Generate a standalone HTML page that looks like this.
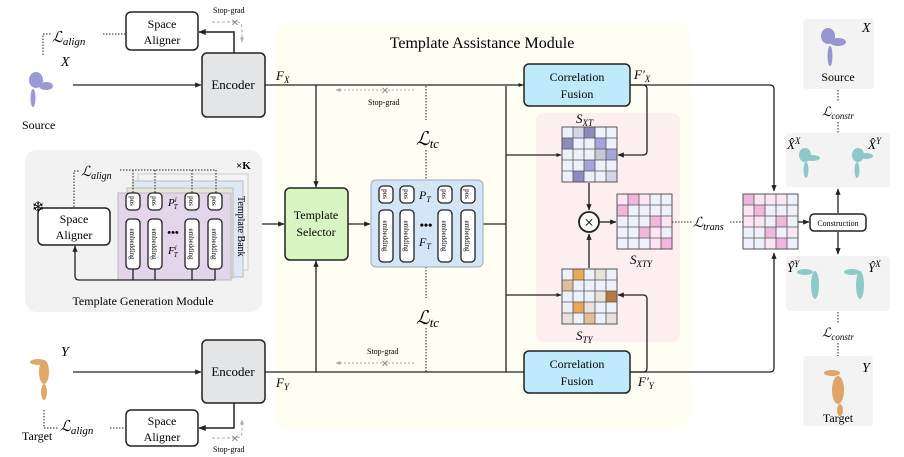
<!DOCTYPE html>
<html><head><meta charset="utf-8"><style>
html,body{margin:0;padding:0;background:#fff}
svg{display:block;font-family:"Liberation Serif",serif}
.i{font-style:italic}
</style></head><body>
<svg width="904" height="457" viewBox="0 0 904 457" xmlns="http://www.w3.org/2000/svg">
<defs>
<marker id="a" viewBox="0 0 10 10" refX="9" refY="5" markerWidth="5" markerHeight="5" orient="auto"><path d="M0,1 L10,5 L0,9z" fill="#222"/></marker>
<marker id="g" viewBox="0 0 10 10" refX="9" refY="5" markerWidth="5" markerHeight="5" orient="auto"><path d="M0,1 L10,5 L0,9z" fill="#aaa"/></marker>
</defs>
<!-- regions -->
<rect x="275" y="22" width="415" height="406" rx="14" fill="#fefef2"/>
<rect x="536" y="113" width="144" height="229" rx="8" fill="#fdeef0"/>
<rect x="25" y="150" width="237" height="162" rx="12" fill="#f2f2f2"/>
<rect x="803" y="19" width="71" height="70" rx="4" fill="#f3f3f3"/>
<rect x="786" y="133" width="104" height="54" rx="4" fill="#f3f3f3"/>
<rect x="786" y="256" width="104" height="55" rx="4" fill="#f3f3f3"/>
<rect x="803" y="356" width="70" height="70" rx="4" fill="#f3f3f3"/>

<!-- point clouds -->
<g fill="#7a78c8" opacity="0.75">
<ellipse cx="36" cy="80" rx="7" ry="8"/><ellipse cx="46" cy="86" rx="7" ry="4"/><ellipse cx="33" cy="98" rx="2.5" ry="9"/>
<ellipse cx="828" cy="36" rx="7" ry="8"/><ellipse cx="838" cy="42" rx="8" ry="4"/><ellipse cx="830" cy="56" rx="2.5" ry="10"/>
</g>
<g fill="#d98b3a" opacity="0.75">
<ellipse cx="44" cy="372" rx="5" ry="12"/><ellipse cx="44" cy="392" rx="3" ry="8"/><ellipse cx="38" cy="362" rx="8" ry="3"/>
<ellipse cx="838" cy="390" rx="6" ry="14"/><ellipse cx="832" cy="373" rx="8" ry="3"/><ellipse cx="840" cy="410" rx="3" ry="6"/>
</g>
<g fill="#6cbcb8" opacity="0.75">
<ellipse cx="805" cy="155" rx="6" ry="7"/><ellipse cx="812" cy="158" rx="8" ry="3"/><ellipse cx="806" cy="170" rx="2.5" ry="8"/>
<ellipse cx="858" cy="155" rx="6" ry="7"/><ellipse cx="866" cy="156" rx="7" ry="3"/><ellipse cx="857" cy="170" rx="2.5" ry="8"/>
<ellipse cx="815" cy="285" rx="4" ry="14"/><ellipse cx="805" cy="272" rx="8" ry="3"/>
<ellipse cx="860" cy="285" rx="4" ry="14"/><ellipse cx="852" cy="272" rx="8" ry="3"/>
</g>

<!-- texts left top -->
<text x="22" y="129" font-size="12">Source</text>
<text x="61" y="66" font-size="14" class="i">X</text>
<text x="22" y="440" font-size="12">Target</text>
<text x="61" y="356" font-size="14" class="i">Y</text>
<text x="52" y="42" font-size="15" class="i">ℒ<tspan font-size="11" dy="3">align</tspan></text>
<path d="M43,55 V34 H51" fill="none" stroke="#222" stroke-dasharray="1.5,1.5"/>
<path d="M103,34 H126" fill="none" stroke="#222" stroke-dasharray="1.5,1.5"/>
<text x="60" y="431" font-size="15" class="i">ℒ<tspan font-size="11" dy="3">align</tspan></text>
<path d="M44,410 V428 H58" fill="none" stroke="#222" stroke-dasharray="1.5,1.5"/>
<path d="M110,428 H126" fill="none" stroke="#222" stroke-dasharray="1.5,1.5"/>

<!-- Space aligners -->
<rect x="126" y="12" width="72" height="38" rx="5" fill="#fff" stroke="#222" stroke-width="1.5"/>
<text x="162" y="28" font-size="12" text-anchor="middle">Space</text><text x="162" y="44" font-size="12" text-anchor="middle">Aligner</text>
<rect x="126" y="410" width="72" height="36" rx="5" fill="#fff" stroke="#222" stroke-width="1.5"/>
<text x="162" y="425" font-size="12" text-anchor="middle">Space</text><text x="162" y="441" font-size="12" text-anchor="middle">Aligner</text>
<text x="213" y="13" font-size="8">Stop-grad</text>
<path d="M212,22 H236 Q242,22 242,28 V42" fill="none" stroke="#aaa" stroke-dasharray="3,2" marker-end="url(#g)"/>
<text x="235" y="26" font-size="10" fill="#888" text-anchor="middle">✕</text>
<text x="213" y="452" font-size="8">Stop-grad</text>
<path d="M212,438 H236 Q242,438 242,432 V420" fill="none" stroke="#aaa" stroke-dasharray="3,2" marker-end="url(#g)"/>
<text x="235" y="442" font-size="10" fill="#888" text-anchor="middle">✕</text>
<path d="M234,53 V32 H199" fill="none" stroke="#222" stroke-width="1.5" marker-end="url(#a)"/>
<path d="M234,403 V428 H199" fill="none" stroke="#222" stroke-width="1.5" marker-end="url(#a)"/>

<!-- Encoders -->
<rect x="202" y="53" width="63" height="64" rx="5" fill="#e3e5e6" stroke="#222" stroke-width="1.5"/>
<text x="233" y="89" font-size="13" text-anchor="middle">Encoder</text>
<rect x="202" y="340" width="63" height="63" rx="5" fill="#e3e5e6" stroke="#222" stroke-width="1.5"/>
<text x="233" y="376" font-size="13" text-anchor="middle">Encoder</text>
<path d="M73,85 H201" stroke="#222" stroke-width="1.3" marker-end="url(#a)"/>
<path d="M73,372 H201" stroke="#222" stroke-width="1.3" marker-end="url(#a)"/>

<text x="482" y="48" font-size="16" text-anchor="middle">Template Assistance Module</text>
<text x="276" y="80" font-size="13" class="i">F<tspan font-size="9" dy="3">X</tspan></text>
<text x="276" y="387" font-size="13" class="i">F<tspan font-size="9" dy="3">Y</tspan></text>

<!-- main lines -->
<path d="M265,85 H770 Q774,85 774,89 V191" fill="none" stroke="#222" stroke-width="1.3" marker-end="url(#a)"/>
<path d="M506,85 H523" stroke="#222" marker-end="url(#a)"/>
<path d="M265,372 H770 Q774,372 774,368 V253" fill="none" stroke="#222" stroke-width="1.3" marker-end="url(#a)"/>
<path d="M316,85 V187" stroke="#222" stroke-width="1.3" marker-end="url(#a)"/>
<path d="M316,372 V261" stroke="#222" stroke-width="1.3" marker-end="url(#a)"/>
<path d="M262,224 H284" stroke="#222" stroke-width="1.3" marker-end="url(#a)"/>
<path d="M348,224 H370" stroke="#222" stroke-width="1.3" marker-end="url(#a)"/>
<path d="M483,224 H506 M506,86 V372 M506,155 H561 M506,295 H561" fill="none" stroke="#222" stroke-width="1.3"/>
<path d="M540,155 H561" stroke="#222" marker-end="url(#a)"/>
<path d="M540,295 H561" stroke="#222" marker-end="url(#a)"/>
<path d="M630,85 H643 Q647,85 647,89 V151 Q647,155 643,155 H618" fill="none" stroke="#222" stroke-width="1.3" marker-end="url(#a)"/>
<path d="M630,372 H643 Q647,372 647,368 V299 Q647,295 643,295 H618" fill="none" stroke="#222" stroke-width="1.3" marker-end="url(#a)"/>

<!-- stop-grad in TAM -->
<path d="M426,86 V120" stroke="#222" stroke-dasharray="1.5,1.5"/>
<path d="M426,150 V180 M426,267 V298 M426,328 V372" stroke="#222" stroke-dasharray="1.5,1.5"/>
<path d="M414,90 H336" stroke="#aaa" stroke-dasharray="2,2" marker-end="url(#g)"/>
<text x="385" y="94" font-size="10" fill="#888" text-anchor="middle">✕</text>
<text x="368" y="105" font-size="8">Stop-grad</text>
<path d="M414,363 H336" stroke="#aaa" stroke-dasharray="2,2" marker-end="url(#g)"/>
<text x="385" y="367" font-size="10" fill="#888" text-anchor="middle">✕</text>
<text x="367" y="354" font-size="8">Stop-grad</text>
<text x="416" y="145" font-size="19" class="i">ℒ<tspan font-size="13" dy="3">tc</tspan></text>
<text x="416" y="324" font-size="19" class="i">ℒ<tspan font-size="13" dy="3">tc</tspan></text>

<!-- Correlation fusion -->
<rect x="524" y="64" width="106" height="42" rx="5" fill="#bfeafc" stroke="#222" stroke-width="1.5"/>
<text x="577" y="81" font-size="12" text-anchor="middle">Correlation</text><text x="577" y="98" font-size="12" text-anchor="middle">Fusion</text>
<rect x="524" y="351" width="106" height="42" rx="5" fill="#bfeafc" stroke="#222" stroke-width="1.5"/>
<text x="577" y="368" font-size="12" text-anchor="middle">Correlation</text><text x="577" y="385" font-size="12" text-anchor="middle">Fusion</text>
<text x="634" y="79" font-size="13" class="i">F′<tspan font-size="9" dy="3">X</tspan></text>
<text x="638" y="386" font-size="13" class="i">F′<tspan font-size="9" dy="3">Y</tspan></text>

<!-- Template selector -->
<rect x="285" y="188" width="63" height="72" rx="5" fill="#d9f6c2" stroke="#222" stroke-width="1.5"/>
<text x="316" y="219" font-size="12" text-anchor="middle">Template</text><text x="316" y="236" font-size="12" text-anchor="middle">Selector</text>

<!-- feature box -->
<rect x="371" y="180" width="112" height="87" rx="5" fill="#d5e5f8" stroke="#9ab"/>
<g fill="#fff" stroke="#222" stroke-width="1.3">
<rect x="379" y="186" width="14" height="17" rx="4"/><rect x="400" y="186" width="14" height="17" rx="4"/><rect x="438" y="186" width="14" height="17" rx="4"/><rect x="461" y="186" width="14" height="17" rx="4"/>
<rect x="379" y="210" width="14" height="52" rx="4"/><rect x="400" y="210" width="14" height="52" rx="4"/><rect x="438" y="210" width="14" height="52" rx="4"/><rect x="461" y="210" width="14" height="52" rx="4"/>
</g>
<g font-size="7" text-anchor="middle">
<text transform="translate(383,194) rotate(90)">pos</text><text transform="translate(404,194) rotate(90)">pos</text><text transform="translate(442,194) rotate(90)">pos</text><text transform="translate(465,194) rotate(90)">pos</text>
<text transform="translate(383,236) rotate(90)">embedding</text><text transform="translate(404,236) rotate(90)">embedding</text><text transform="translate(442,236) rotate(90)">embedding</text><text transform="translate(465,236) rotate(90)">embedding</text>
</g>
<text x="419" y="199" font-size="12" class="i">P<tspan font-size="8" dy="3">T</tspan></text>
<text x="419" y="246" font-size="12" class="i">F<tspan font-size="8" dy="3">T</tspan></text>
<text x="426" y="229" font-size="12" text-anchor="middle" font-weight="bold">•••</text>

<!-- TGM -->
<rect x="138" y="174" width="110" height="96" fill="#f4f4f4" stroke="#ccc"/>
<rect x="133" y="181" width="110" height="96" fill="#dfe8f7" stroke="#bbb"/>
<rect x="127" y="188" width="106" height="90" fill="#e4e8d4" stroke="#bbb"/>
<rect x="118" y="193" width="113" height="87" fill="#e3d5ea" stroke="#bbb"/>
<text transform="translate(238,196) rotate(90)" font-size="10">Template Bank</text>
<text x="236" y="169" font-size="11" font-weight="bold">×K</text>
<g fill="#fff" stroke="#222" stroke-width="1.3">
<rect x="126" y="193" width="14" height="17" rx="4"/><rect x="148" y="193" width="14" height="17" rx="4"/><rect x="185" y="193" width="14" height="17" rx="4"/><rect x="208" y="193" width="14" height="17" rx="4"/>
<rect x="126" y="219" width="14" height="50" rx="4"/><rect x="148" y="219" width="14" height="50" rx="4"/><rect x="185" y="219" width="14" height="50" rx="4"/><rect x="208" y="219" width="14" height="50" rx="4"/>
</g>
<g font-size="7" text-anchor="middle">
<text transform="translate(130,201) rotate(90)">pos</text><text transform="translate(152,201) rotate(90)">pos</text><text transform="translate(189,201) rotate(90)">pos</text><text transform="translate(212,201) rotate(90)">pos</text>
<text transform="translate(130,244) rotate(90)">embedding</text><text transform="translate(152,244) rotate(90)">embedding</text><text transform="translate(189,244) rotate(90)">embedding</text><text transform="translate(212,244) rotate(90)">embedding</text>
</g>
<text x="168" y="206" font-size="11" class="i">P<tspan font-size="7" dy="-4">i</tspan><tspan font-size="7" dx="-3" dy="7">T</tspan></text>
<text x="168" y="254" font-size="11" class="i">F<tspan font-size="7" dy="-4">i</tspan><tspan font-size="7" dx="-3" dy="7">T</tspan></text>
<text x="173" y="236" font-size="11" text-anchor="middle" font-weight="bold">•••</text>
<rect x="38" y="208" width="72" height="37" rx="5" fill="#fff" stroke="#222" stroke-width="1.5"/>
<text x="74" y="223" font-size="12" text-anchor="middle">Space</text><text x="74" y="239" font-size="12" text-anchor="middle">Aligner</text>
<text x="38" y="212" font-size="15" text-anchor="middle">❄</text>
<text x="81" y="176" font-size="14" class="i">ℒ<tspan font-size="10" dy="3">align</tspan></text>
<path d="M74,207 V171 H80 M120,170 H216 V193 M133,170 V193 M155,170 V193 M192,170 V193" fill="none" stroke="#222" stroke-dasharray="1.5,1.5"/>
<path d="M133,269 V280 M155,269 V280 M192,269 V280 M215,269 V280 M215,280 H79 Q75,280 75,276 V246" fill="none" stroke="#222" stroke-width="1.3" marker-end="url(#a)"/>
<text x="143" y="305" font-size="12" text-anchor="middle">Template Generation Module</text>

<!-- S_XT grid -->
<rect x="562" y="127" width="55" height="55" fill="#eef0fb"/>
<g>
<rect x="584" y="127" width="11" height="11" fill="#8b8bbf"/><rect x="562" y="138" width="11" height="11" fill="#8b8bbf"/><rect x="606" y="149" width="11" height="11" fill="#a5a5dc"/><rect x="595" y="138" width="11" height="11" fill="#a5a5dc"/><rect x="584" y="160" width="11" height="11" fill="#a5a5dc"/><rect x="573" y="171" width="11" height="11" fill="#8b8bbf"/><rect x="595" y="149" width="11" height="11" fill="#c8c8d8"/><rect x="573" y="127" width="11" height="11" fill="#d5d5e8"/><rect x="606" y="171" width="11" height="11" fill="#d5d5e8"/>
</g>
<path d="M573,127V182M584,127V182M595,127V182M606,127V182M562,138H617M562,149H617M562,160H617M562,171H617" stroke="#555" stroke-width="0.8"/>
<rect x="562" y="127" width="55" height="55" fill="none" stroke="#555" stroke-width="1"/>
<text x="576" y="123" font-size="13" class="i">S<tspan font-size="9" dy="3">XT</tspan></text>
<!-- S_TY -->
<rect x="562" y="269" width="55" height="55" fill="#eef0fb"/>
<g>
<rect x="573" y="269" width="11" height="11" fill="#eaa857"/><rect x="562" y="280" width="11" height="11" fill="#e0bf98"/><rect x="606" y="291" width="11" height="11" fill="#b8773f"/><rect x="573" y="302" width="11" height="11" fill="#eaa857"/><rect x="595" y="269" width="11" height="11" fill="#e8e2da"/><rect x="595" y="291" width="11" height="11" fill="#e8e2da"/><rect x="584" y="302" width="11" height="11" fill="#e8e2da"/><rect x="584" y="313" width="11" height="11" fill="#e0bf98"/><rect x="562" y="313" width="11" height="11" fill="#e8e2da"/><rect x="606" y="313" width="11" height="11" fill="#e8e2da"/>
</g>
<path d="M573,269V324M584,269V324M595,269V324M606,269V324M562,280H617M562,291H617M562,302H617M562,313H617" stroke="#555" stroke-width="0.8"/>
<rect x="562" y="269" width="55" height="55" fill="none" stroke="#555" stroke-width="1"/>
<text x="576" y="340" font-size="13" class="i">S<tspan font-size="9" dy="3">TY</tspan></text>
<!-- S_XTY -->
<rect x="617" y="194" width="55" height="55" fill="#eef0fb"/>
<g>
<rect x="617" y="194" width="11" height="11" fill="#fce6f4"/><rect x="639" y="194" width="11" height="11" fill="#fce6f4"/><rect x="661" y="216" width="11" height="11" fill="#fce6f4"/><rect x="650" y="238" width="11" height="11" fill="#fce6f4"/><rect x="650" y="227" width="11" height="11" fill="#fce6f4"/>
<rect x="628" y="194" width="11" height="11" fill="#f0b6dc"/><rect x="617" y="205" width="11" height="11" fill="#f0b6dc"/><rect x="650" y="216" width="11" height="11" fill="#f0b6dc"/><rect x="639" y="227" width="11" height="11" fill="#f0b6dc"/><rect x="661" y="238" width="11" height="11" fill="#f0b6dc"/>
</g>
<path d="M628,194V249M639,194V249M650,194V249M661,194V249M617,205H672M617,216H672M617,227H672M617,238H672" stroke="#555" stroke-width="0.8"/>
<rect x="617" y="194" width="55" height="55" fill="none" stroke="#555" stroke-width="1"/>
<text x="630" y="264" font-size="13" class="i">S<tspan font-size="9" dy="3">XTY</tspan></text>
<circle cx="589" cy="222" r="10" fill="#fff" stroke="#222" stroke-width="1.8"/>
<text x="589" y="228" font-size="17" text-anchor="middle">×</text>
<path d="M589,183 V210" stroke="#222" stroke-width="1.3" marker-end="url(#a)"/>
<path d="M589,268 V234" stroke="#222" stroke-width="1.3" marker-end="url(#a)"/>
<path d="M600,222 H616" stroke="#222" stroke-width="1.3" marker-end="url(#a)"/>
<path d="M672,222 H692" stroke="#222" stroke-dasharray="1.5,1.5"/>
<text x="693" y="227" font-size="14" class="i">ℒ<tspan font-size="10" dy="3">trans</tspan></text>
<path d="M730,222 H743" stroke="#222" stroke-dasharray="1.5,1.5"/>

<!-- big matrix -->
<rect x="743" y="194" width="55" height="55" fill="#eef0fb"/>
<g>
<rect x="754" y="194" width="11" height="11" fill="#fce6f4"/><rect x="765" y="194" width="11" height="11" fill="#fce6f4"/><rect x="776" y="194" width="11" height="11" fill="#fce6f4"/><rect x="743" y="205" width="11" height="11" fill="#fce6f4"/><rect x="754" y="216" width="11" height="11" fill="#fce6f4"/><rect x="743" y="216" width="11" height="11" fill="#fce6f4"/><rect x="787" y="227" width="11" height="11" fill="#fce6f4"/><rect x="765" y="238" width="11" height="11" fill="#fce6f4"/>
<rect x="743" y="194" width="11" height="11" fill="#f0b6dc"/><rect x="754" y="205" width="11" height="11" fill="#f0b6dc"/><rect x="776" y="216" width="11" height="11" fill="#f0b6dc"/><rect x="765" y="227" width="11" height="11" fill="#f0b6dc"/><rect x="776" y="238" width="11" height="11" fill="#f0b6dc"/>
</g>
<path d="M754,194V249M765,194V249M776,194V249M787,194V249M743,205H798M743,216H798M743,227H798M743,238H798" stroke="#555" stroke-width="0.8"/>
<rect x="743" y="194" width="55" height="55" fill="none" stroke="#555" stroke-width="1"/>
<path d="M798,222 H809" stroke="#222" stroke-width="1.3" marker-end="url(#a)"/>
<rect x="810" y="214" width="56" height="17" rx="4" fill="#fff" stroke="#222" stroke-width="1.5"/>
<text x="838" y="226" font-size="8" text-anchor="middle">Construction</text>
<path d="M838,213 V189" stroke="#222" stroke-width="1.3" marker-end="url(#a)"/>
<path d="M838,232 V254" stroke="#222" stroke-width="1.3" marker-end="url(#a)"/>

<!-- right labels -->
<text x="862" y="32" font-size="14" class="i">X</text>
<text x="838" y="81" font-size="12" text-anchor="middle">Source</text>
<text x="838" y="422" font-size="12" text-anchor="middle">Target</text>
<text x="862" y="372" font-size="14" class="i">Y</text>
<text x="787" y="149" font-size="13" class="i">X̂<tspan font-size="9" dy="-5">X</tspan></text>
<text x="868" y="149" font-size="13" class="i">X̂<tspan font-size="9" dy="-5">Y</tspan></text>
<text x="787" y="272" font-size="13" class="i">Ŷ<tspan font-size="9" dy="-5">Y</tspan></text>
<text x="868" y="272" font-size="13" class="i">Ŷ<tspan font-size="9" dy="-5">X</tspan></text>
<path d="M838,90 V101 M838,122 V133 M838,312 V323 M838,343 V356" stroke="#222" stroke-dasharray="1.5,1.5"/>
<text x="822" y="116" font-size="13" class="i">ℒ<tspan font-size="9" dy="3">constr</tspan></text>
<text x="822" y="337" font-size="13" class="i">ℒ<tspan font-size="9" dy="3">constr</tspan></text>
</svg>
</body></html>
